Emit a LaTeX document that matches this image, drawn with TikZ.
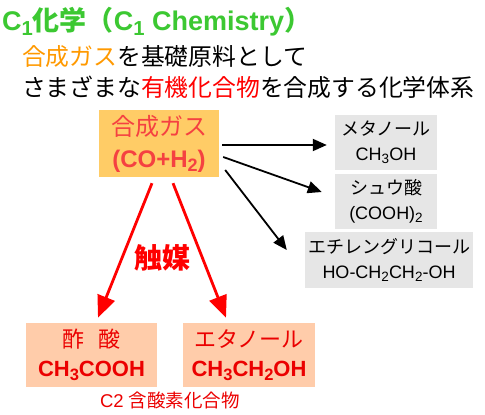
\documentclass[tikz,border=0pt]{standalone}
\usepackage{fontspec}
\usepackage{graphicx}
\setmainfont{Liberation Sans}
\newfontfamily\jp{Noto Sans CJK JP}
\usetikzlibrary{arrows.meta,positioning}

\definecolor{titlegreen}{RGB}{60,200,50}
\definecolor{gasorange}{RGB}{255,153,0}
\definecolor{synorange}{RGB}{255,204,102}
\definecolor{synred}{RGB}{245,65,65}
\definecolor{prodgray}{RGB}{230,230,230}
\definecolor{ctwosalmon}{RGB}{255,204,170}
\definecolor{ctwored}{RGB}{235,0,0}
\definecolor{arrowred}{RGB}{255,0,0}

\newcommand{\chemsub}[1]{\raisebox{-0.35ex}{\scalebox{0.75}{#1}}}

\begin{document}
\begin{tikzpicture}[x=1pt, y=-1pt,
    product/.style={fill=prodgray, align=center, inner sep=0pt,
        minimum height=55pt, font=\fontsize{18}{25}\selectfont},
    ctwo/.style={fill=ctwosalmon, text=ctwored, align=center, inner sep=0pt,
        minimum width=131pt, minimum height=64pt, font=\fontsize{22}{29}\selectfont},
    blackarrow/.style={line width=1.8pt, -{Triangle[length=14pt,width=12pt]}},
    redarrow/.style={draw=arrowred, line width=2.8pt, -{Triangle[length=22pt,width=18pt]}}]
    \useasboundingbox (0,0) rectangle (485,415);
    % heading
    \node[anchor=west, inner sep=0pt, text=titlegreen, font=\fontsize{27}{32}\selectfont\bfseries] (title) at (2,22)
        {C\chemsub{1}{\jp 化学（}C\chemsub{1} Chemistry{\jp ）}};
    \node[anchor=west, inner sep=0pt, font=\fontsize{23.8}{28}\selectfont\jp] (line2) at (22,57)
        {\textcolor{gasorange}{合成ガス}を基礎原料として};
    \node[anchor=west, inner sep=0pt, font=\fontsize{23.8}{28}\selectfont\jp] (line3) at (22,87)
        {さまざまな\textcolor{arrowred}{有機化合物}を合成する化学体系};
    % syngas
    \node[fill=synorange, text=synred, align=center, inner sep=0pt, minimum width=120pt, minimum height=67pt,
        font=\fontsize{24}{32}\selectfont] (syngas) at (159,143.5) {{\jp 合成ガス}\\\textbf{(CO+H\chemsub{2})}};
    % products
    \node[product, minimum width=102pt] (meoh) at (386,142.5) {{\jp メタノール}\\CH\chemsub{3}OH};
    \node[product, minimum width=102pt] (oxalic) at (386,201) {{\jp シュウ酸}\\(COOH)\chemsub{2}};
    \node[product, minimum width=168pt, minimum height=56pt] (glycol) at (389,260)
        {{\jp エチレングリコール}\\HO-CH\chemsub{2}CH\chemsub{2}-OH};
    \draw[blackarrow] ([xshift=3pt,yshift=-1.5pt]syngas.east) -- ([xshift=-8pt,yshift=-2.5pt]meoh.west);
    \draw[blackarrow] ([xshift=4pt,yshift=-13.5pt]syngas.east) -- ([xshift=-13pt,yshift=9pt]oxalic.west);
    \draw[blackarrow] ([xshift=6pt,yshift=-26.5pt]syngas.east) -- ([xshift=-18pt,yshift=10pt]glycol.west);
    % C2 compounds
    \node[ctwo] (acetic) at (91.5,355) {{\jp 酢\kern0.6em酸}\\\textbf{CH\chemsub{3}COOH}};
    \node[ctwo, minimum width=132pt] (ethanol) at (249,355) {{\jp エタノール}\\\textbf{CH\chemsub{3}CH\chemsub{2}OH}};
    \draw[redarrow] ([xshift=-7pt,yshift=-6pt]syngas.south) -- ([xshift=6.5pt,yshift=5pt]acetic.north);
    \draw[redarrow] ([xshift=14pt,yshift=-6pt]syngas.south) -- ([xshift=-23pt,yshift=5pt]ethanol.north);
    \node[text=arrowred, font=\fontsize{28}{30}\selectfont\bfseries\jp] (catalyst) at (162,258) {触媒};
    \node[text=ctwored, inner sep=0pt, font=\fontsize{18.5}{20}\selectfont] (caption) at (170,400) {C2 {\jp 含酸素化合物}};
\end{tikzpicture}
\end{document}
